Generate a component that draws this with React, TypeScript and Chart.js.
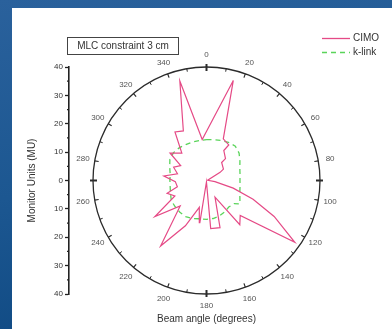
import React, { useEffect, useRef } from 'react';
import { Chart, registerables } from 'chart.js';

Chart.register(...registerables);

// Beam angles (degrees, clockwise from top) and monitor units
const cimoAngles = [15, 22, 32, 30, 41, 40, 56, 59, 80, 98, 106, 112, 118, 125, 136, 143, 153, 164, 175, 182, 189, 195, 205, 215, 226, 235, 244, 252, 258, 268, 276, 283, 292, 300, 307, 318, 327, 335, 345, 354];
const cimoValues = [36.5, 15.8, 14.8, 12.2, 10.2, 8.3, 7.2, 5.6, 0.4, 3, 9.8, 17.7, 27, 38, 17.1, 19.5, 6.6, 17.3, 17, 0.5, 15, 9.8, 17.6, 28.2, 12.9, 22.2, 12.4, 14.6, 10.5, 11, 15.1, 10.5, 12.5, 10.5, 16.1, 13, 20.4, 19.3, 36.3, 14.5];

const klinkAngles = [0, 10, 20, 30, 40, 50, 60, 70, 80, 90, 100, 110, 120, 125, 130, 140, 150, 160, 170, 180, 190, 200, 210, 220, 230, 240, 250, 260, 270, 280, 290, 300, 310, 320, 330, 340, 350];
const klinkValues = [14.4, 14.6, 15, 15.5, 15.8, 15, 13.6, 12.5, 12, 11.8, 12, 12.5, 13.6, 14.4, 12.7, 12.2, 12.8, 13.3, 13.6, 13.7, 13.7, 14.3, 14.7, 14.6, 14.4, 14.3, 13.5, 13, 12.9, 13, 13.8, 14.9, 15.2, 15, 14.6, 14.4, 14.3];

const angleTickLabels = [0, 20, 40, 60, 80, 100, 120, 140, 160, 180, 200, 220, 240, 260, 280, 300, 320, 340];
const radialMax = 40;
const radialStep = 10;
const seriesNames = ['CIMO', 'k-link'];
const annotationText = 'MLC constraint 3 cm';
const xTitle = 'Beam angle (degrees)';
const yTitle = 'Monitor Units (MU)';

const FONT = '"Liberation Sans", Arial, sans-serif';
const PINK = '#e54a86';
const GREEN = '#5ad45a';

function toXY(angles: number[], values: number[]) {
  const pts = angles.map((a, i) => {
    const t = (a * Math.PI) / 180;
    return { x: values[i] * Math.sin(t), y: values[i] * Math.cos(t) };
  });
  pts.push({ ...pts[0] });
  return pts;
}

const polarFrame = {
  id: 'polarFrame',
  beforeDatasetsDraw(chart: any) {
    const { ctx, scales } = chart;
    const x = scales.x, y = scales.y;
    const cx = x.getPixelForValue(0), cy = y.getPixelForValue(0);
    const rx = x.getPixelForValue(radialMax) - cx;
    const ry = cy - y.getPixelForValue(radialMax);
    ctx.save();
    ctx.strokeStyle = '#2b2b2b';
    ctx.lineWidth = 1.3;
    ctx.beginPath();
    ctx.ellipse(cx, cy, rx, ry, 0, 0, Math.PI * 2);
    ctx.stroke();
    for (let a = 0; a < 360; a += 10) {
      const t = (a * Math.PI) / 180;
      const s = Math.sin(t), c = Math.cos(t);
      let inner = 3, outer = 0, w = 1;
      if (a % 90 === 0) { inner = 4; outer = 3; w = 2; }
      else if (a % 20 === 0) { inner = 4; outer = 0; w = 1.2; }
      ctx.lineWidth = w;
      ctx.beginPath();
      ctx.moveTo(cx + (rx - inner) * s, cy - (ry - inner) * c);
      ctx.lineTo(cx + (rx + outer) * s, cy - (ry + outer) * c);
      ctx.stroke();
    }
    ctx.fillStyle = '#555';
    ctx.font = `8px ${FONT}`;
    ctx.textAlign = 'center';
    ctx.textBaseline = 'middle';
    angleTickLabels.forEach((a) => {
      const t = (a * Math.PI) / 180;
      ctx.fillText(String(a), cx + (rx + 12) * Math.sin(t), cy - (ry + 12) * Math.cos(t));
    });
    ctx.restore();
  },
  afterDraw(chart: any) {
    const { ctx, scales, chartArea } = chart;
    const x = scales.x, y = scales.y;
    const cx = x.getPixelForValue(0), cy = y.getPixelForValue(0);
    const ry = cy - y.getPixelForValue(radialMax);
    ctx.save();
    // minor ticks on the left axis
    ctx.strokeStyle = '#222';
    ctx.lineWidth = 1.2;
    for (let v = -radialMax + radialStep / 2; v < radialMax; v += radialStep) {
      const py = y.getPixelForValue(v);
      ctx.beginPath();
      ctx.moveTo(chartArea.left - 2, py);
      ctx.lineTo(chartArea.left, py);
      ctx.stroke();
    }
    // x title
    ctx.fillStyle = '#333';
    ctx.font = `10px ${FONT}`;
    ctx.textAlign = 'center';
    ctx.textBaseline = 'middle';
    ctx.fillText(xTitle, cx, cy + ry + 25);
    // annotation box
    ctx.strokeStyle = '#444';
    ctx.lineWidth = 1;
    ctx.strokeRect(55.5, 29.5, 111, 17);
    ctx.fillStyle = '#333';
    ctx.fillText(annotationText, 111, 38.5);
    // legend
    const ds = chart.data.datasets;
    ctx.textAlign = 'left';
    [30.5, 44.5].forEach((ly, i) => {
      ctx.strokeStyle = ds[i].borderColor;
      ctx.lineWidth = 1.3;
      ctx.setLineDash(ds[i].borderDash || []);
      ctx.beginPath();
      ctx.moveTo(310, ly);
      ctx.lineTo(338, ly);
      ctx.stroke();
      ctx.setLineDash([]);
      ctx.fillStyle = '#333';
      ctx.fillText(ds[i].label, 341, ly);
    });
    ctx.restore();
  },
};

export default function App() {
  const ref = useRef<HTMLCanvasElement>(null);
  useEffect(() => {
    document.body.style.margin = '0';
    const chart = new Chart(ref.current as HTMLCanvasElement, {
      type: 'scatter',
      data: {
        datasets: [
          {
            label: seriesNames[0],
            data: toXY(cimoAngles, cimoValues),
            showLine: true,
            borderColor: PINK,
            backgroundColor: PINK,
            borderWidth: 1.2,
            pointRadius: 0,
            clip: false as any,
          },
          {
            label: seriesNames[1],
            data: toXY(klinkAngles, klinkValues),
            showLine: true,
            borderColor: GREEN,
            backgroundColor: GREEN,
            borderWidth: 1.3,
            borderDash: [5, 4],
            pointRadius: 0,
            clip: false as any,
          },
        ],
      },
      options: {
        animation: false,
        responsive: false,
        devicePixelRatio: 1,
        layout: { padding: { top: 59, bottom: 35, left: 0, right: 48 } },
        plugins: { legend: { display: false }, tooltip: { enabled: false } },
        scales: {
          x: { type: 'linear', min: -48.46, max: 48.46, display: false },
          y: {
            type: 'linear',
            position: 'left',
            min: -radialMax,
            max: radialMax,
            afterFit: (s: any) => { s.width = 57; },
            ticks: {
              stepSize: radialStep,
              padding: 2,
              color: '#333',
              font: { size: 8, family: FONT },
              callback: (v: any) => String(Math.abs(Number(v))),
            },
            grid: { drawOnChartArea: false, drawTicks: true, tickLength: 4, tickColor: '#222', tickWidth: 1.3 },
            border: { display: true, color: '#222', width: 1.6 },
            title: { display: true, text: yTitle, color: '#333', font: { size: 10, family: FONT }, padding: { top: 14, bottom: 0 } },
          },
        },
      },
      plugins: [polarFrame],
    });
    return () => chart.destroy();
  }, []);
  return (
    <div style={{ width: 392, height: 329, position: 'relative', overflow: 'hidden', background: 'linear-gradient(170deg, #2a619c 0%, #1c5791 50%, #0d4780 100%)' }}>
      <div style={{ position: 'absolute', left: 12, top: 8, width: 380, height: 321, background: '#fff' }}>
        <canvas ref={ref} width={380} height={321} style={{ display: 'block', width: 380, height: 321 }} />
      </div>
    </div>
  );
}
